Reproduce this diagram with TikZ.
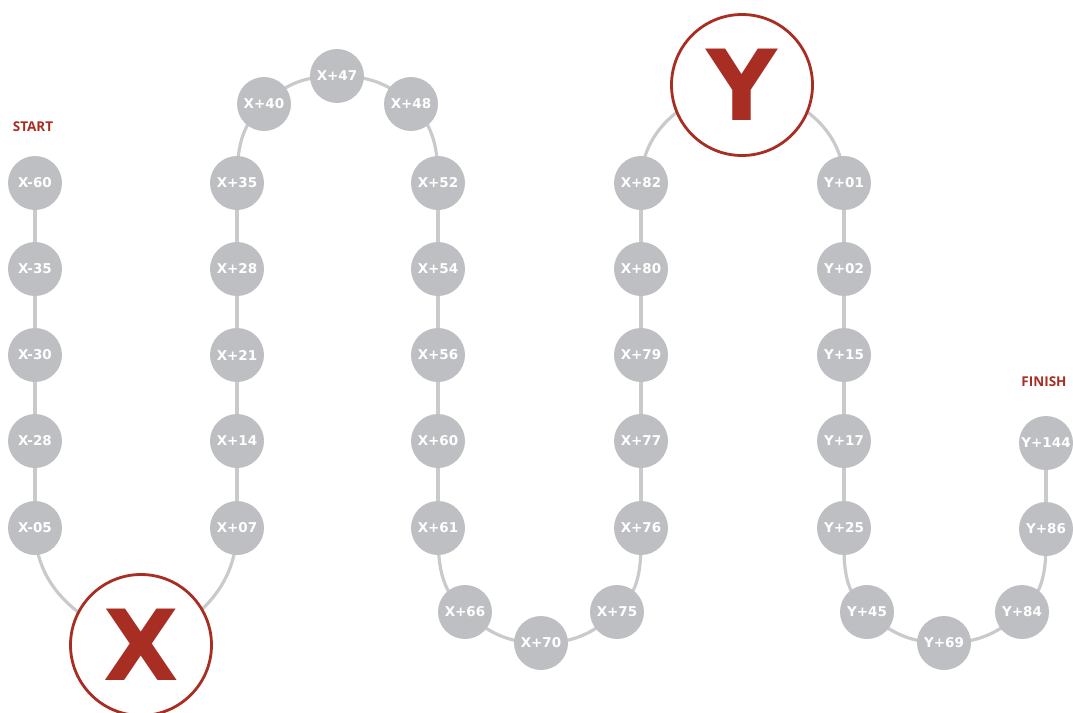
\documentclass[tikz,border=0pt]{standalone}
\usepackage{fontspec}
\setmainfont{DejaVu Sans}
\newfontfamily\labfont{Open Sans}
\usetikzlibrary{backgrounds}
\definecolor{nodegray}{RGB}{190,191,194}
\definecolor{linegray}{RGB}{202,202,204}
\definecolor{markred}{RGB}{168,45,35}
\tikzset{
  stop/.style={circle,fill=nodegray,minimum size=54pt,inner sep=0pt,text=white,font=\bfseries\fontsize{13.5}{14}\selectfont},
  bigstop/.style={circle,draw=markred,line width=2.8pt,fill=white,minimum size=141pt,inner sep=0pt,text=markred,font=\bfseries\fontsize{98}{98}\selectfont},
  path/.style={draw=linegray,line width=3.2pt},
  tag/.style={text=markred,font=\labfont\bfseries\fontsize{13.5}{14}\selectfont}
}
\begin{document}
\begin{tikzpicture}[x=1pt,y=1pt]
\useasboundingbox (0,0) rectangle (1073,-712);
% column 1
\node[stop] (a1) at (35,-183) {X-60};
\node[stop] (a2) at (35,-269) {X-35};
\node[stop] (a3) at (35,-355) {X-30};
\node[stop] (a4) at (35,-441) {X-28};
\node[stop] (a5) at (35,-528) {X-05};
\node[bigstop] (X) at (141,-645) {X};
% column 2
\node[stop] (b1) at (237,-528) {X+07};
\node[stop] (b2) at (237,-441) {X+14};
\node[stop] (b3) at (237,-355) {X+21};
\node[stop] (b4) at (237,-269) {X+28};
\node[stop] (b5) at (237,-183) {X+35};
\node[stop] (t1) at (264,-104) {X+40};
\node[stop] (t2) at (337,-76) {X+47};
\node[stop] (t3) at (411,-104) {X+48};
% column 3
\node[stop] (c1) at (438,-183) {X+52};
\node[stop] (c2) at (438,-269) {X+54};
\node[stop] (c3) at (438,-355) {X+56};
\node[stop] (c4) at (438,-441) {X+60};
\node[stop] (c5) at (438,-528) {X+61};
\node[stop] (u1) at (465,-612) {X+66};
\node[stop] (u2) at (541,-643) {X+70};
\node[stop] (u3) at (617,-612) {X+75};
% column 4
\node[stop] (d1) at (641,-528) {X+76};
\node[stop] (d2) at (641,-441) {X+77};
\node[stop] (d3) at (641,-355) {X+79};
\node[stop] (d4) at (641,-269) {X+80};
\node[stop] (d5) at (641,-183) {X+82};
\node[bigstop] (Y) at (742,-85) {Y};
% column 5
\node[stop] (e1) at (844,-183) {Y+01};
\node[stop] (e2) at (844,-269) {Y+02};
\node[stop] (e3) at (844,-355) {Y+15};
\node[stop] (e4) at (844,-441) {Y+17};
\node[stop] (e5) at (844,-528) {Y+25};
\node[stop] (v1) at (867,-612) {Y+45};
\node[stop] (v2) at (944,-643) {Y+69};
\node[stop] (v3) at (1022,-612) {Y+84};
% column 6
\node[stop] (f1) at (1046,-529) {Y+86};
\node[stop] (f2) at (1046,-443) {Y+144};
% labels
\node[tag] (start) at (33,-127) {START};
\node[tag] (finish) at (1044,-382) {FINISH};
\begin{scope}[on background layer]
\draw[path] (a1.center) -- (a2.center) -- (a3.center) -- (a4.center) -- (a5.center);
\draw[path] (a5.center) to[out=-90,in=160] (X.center);
\draw[path] (X.center) to[out=20,in=-90] (b1.center);
\draw[path] (b1.center) -- (b2.center) -- (b3.center) -- (b4.center) -- (b5.center);
\draw[path] (b5.center) to[out=90,in=223] (t1.center);
\draw[path] (t1.center) to[out=43,in=180] (t2.center);
\draw[path] (t2.center) to[out=0,in=137] (t3.center);
\draw[path] (t3.center) to[out=-43,in=90] (c1.center);
\draw[path] (c1.center) -- (c2.center) -- (c3.center) -- (c4.center) -- (c5.center);
\draw[path] (c5.center) to[out=-90,in=138] (u1.center);
\draw[path] (u1.center) to[out=-42,in=180] (u2.center);
\draw[path] (u2.center) to[out=0,in=222] (u3.center);
\draw[path] (u3.center) to[out=42,in=-90] (d1.center);
\draw[path] (d1.center) -- (d2.center) -- (d3.center) -- (d4.center) -- (d5.center);
\draw[path] (d5.center) to[out=90,in=190] (Y.center);
\draw[path] (Y.center) to[out=-10,in=90] (e1.center);
\draw[path] (e1.center) -- (e2.center) -- (e3.center) -- (e4.center) -- (e5.center);
\draw[path] (e5.center) to[out=-90,in=138] (v1.center);
\draw[path] (v1.center) to[out=-42,in=180] (v2.center);
\draw[path] (v2.center) to[out=0,in=222] (v3.center);
\draw[path] (v3.center) to[out=42,in=-90] (f1.center);
\draw[path] (f1.center) -- (f2.center);
\end{scope}
\end{tikzpicture}
\end{document}
